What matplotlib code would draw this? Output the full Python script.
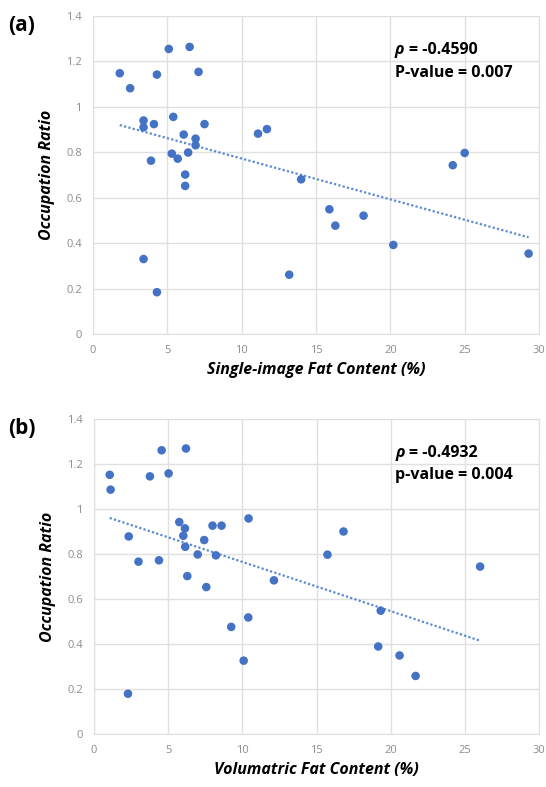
import numpy as np
import matplotlib
matplotlib.use("Agg")
import matplotlib.pyplot as plt

plt.rcParams['font.family'] = ['Open Sans', 'DejaVu Sans']

# panel (a): single-image fat content vs occupation ratio
fat_a = [1.8, 2.5, 3.4, 3.4, 3.9, 4.1, 4.3, 5.1, 5.4, 5.3, 5.7, 6.1, 6.2, 6.2,
         6.4, 6.5, 6.9, 6.9, 7.1, 7.5, 11.1, 11.7, 14.0, 24.2, 25.0,
         3.4, 4.3, 13.2, 15.9, 16.3, 18.2, 20.2, 29.3]
occ_a = [1.148, 1.082, 0.94, 0.91, 0.763, 0.924, 1.142, 1.255, 0.956, 0.794,
         0.772, 0.878, 0.702, 0.652, 0.799, 1.264, 0.86, 0.831, 1.154, 0.924,
         0.882, 0.902, 0.681, 0.743, 0.797,
         0.33, 0.184, 0.261, 0.549, 0.477, 0.521, 0.392, 0.354]

# panel (b): volumetric fat content vs occupation ratio
fat_b = [1.06, 1.12, 2.34, 3.0, 3.77, 4.38, 4.56, 5.03, 5.75, 6.13, 6.02, 6.2,
         6.15, 6.29, 6.99, 7.43, 7.57, 7.99, 8.22, 8.6, 10.42, 12.13, 15.74,
         16.82, 26.03,
         2.29, 9.25, 10.4, 10.09, 19.16, 19.33, 20.6, 21.68]
occ_b = [1.152, 1.086, 0.878, 0.766, 1.145, 0.772, 1.261, 1.158, 0.942, 0.914,
         0.881, 1.269, 0.832, 0.702, 0.798, 0.862, 0.653, 0.926, 0.794, 0.926,
         0.958, 0.683, 0.797, 0.9, 0.744,
         0.179, 0.476, 0.518, 0.326, 0.389, 0.548, 0.349, 0.258]

x_ticks = [0, 5, 10, 15, 20, 25, 30]
y_ticks = [0, 0.2, 0.4, 0.6, 0.8, 1.0, 1.2, 1.4]
y_labels = ['0', '0.2', '0.4', '0.6', '0.8', '1', '1.2', '1.4']

panels = [
    ('(a)', fat_a, occ_a, 'Single-image Fat Content (%)', '-0.4590', 'P-value = 0.007',
     [93 / 546, 1 - 334 / 787, 446 / 546, 318 / 787]),
    ('(b)', fat_b, occ_b, 'Volumatric Fat Content (%)', '-0.4932', 'p-value = 0.004',
     [94 / 546, 1 - 734 / 787, 445 / 546, 315 / 787]),
]

blue = '#4472C4'
grid = '#e0e0e0'

fig = plt.figure(figsize=(5.46, 7.87), dpi=100)

for tag, xs, ys, xlabel, rho, pval, rect in panels:
    ax = fig.add_axes(rect)
    ax.set_xlim(0, 30)
    ax.set_ylim(0, 1.4)
    ax.set_xticks(x_ticks)
    ax.set_yticks(y_ticks)
    ax.set_yticklabels(y_labels)
    ax.grid(True, color=grid, linewidth=1)
    ax.set_axisbelow(True)
    for s in ax.spines.values():
        s.set_color(grid)
    ax.tick_params(length=0, labelsize=8, colors='#8c8c8c', pad=8)

    ax.scatter(xs, ys, s=38, color=blue, zorder=3, edgecolors='none')

    # linear trendline across the data range
    k, b = np.polyfit(xs, ys, 1)
    xl = np.array([min(xs), max(xs)])
    ax.plot(xl, k * xl + b, color='#5b8bd0', linewidth=1.6,
            linestyle=(0, (1, 1)), zorder=2)

    ax.set_xlabel(xlabel, fontsize=11.5, fontweight='bold', style='italic', labelpad=4)
    ax.set_ylabel('Occupation Ratio', fontsize=11.5, fontweight='bold', style='italic',
                  labelpad=8)

    # panel tag and stats
    fig.text(8 / 546, rect[1] + rect[3] + 0.001, tag, fontsize=15, fontweight='bold',
             va='top', ha='left')
    ax.text(20.3, 1.25, '\u03c1', fontsize=11.5, fontweight='bold', style='italic',
            va='center', ha='left')
    ax.text(21.25, 1.25, '= ' + rho, fontsize=11.5, fontweight='bold',
            va='center', ha='left')
    ax.text(20.3, 1.15, pval, fontsize=11.5, fontweight='bold',
            va='center', ha='left')

fig.savefig('out.png', dpi=100)
